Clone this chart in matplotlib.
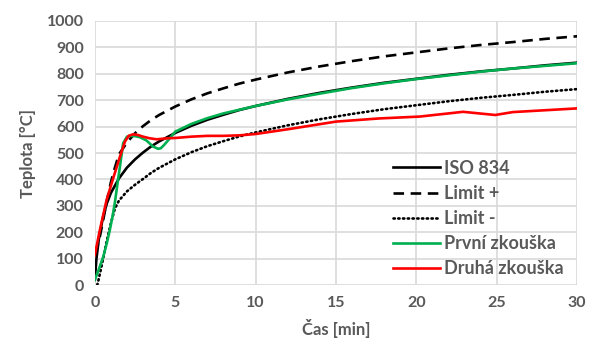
import matplotlib
matplotlib.use('Agg')
import matplotlib.pyplot as plt

# ISO 834 a limity
t_iso = [0, 0.1, 0.25, 0.5, 0.75, 1, 1.5, 2, 2.5, 3, 3.5, 4, 5, 6, 7, 8, 9, 10,
         12, 14, 16, 18, 20, 22, 24, 26, 28, 30]
iso = [20, 100, 175, 255, 310, 349, 404, 445, 476, 502, 525, 544, 576, 603, 626,
       645, 663, 678, 705, 728, 748, 766, 781, 796, 809, 820, 832, 842]

t_plus = [0, 0.25, 0.5, 0.75, 1, 1.25, 1.5, 2, 2.5, 3, 3.5, 4, 5, 6, 7, 8, 9, 10,
          12, 14, 16, 18, 20, 22, 24, 26, 28, 30]
limit_plus = [120, 165, 240, 320, 390, 445, 495, 540, 575, 602, 625, 644, 676, 703,
              726, 745, 763, 778, 805, 828, 848, 866, 881, 896, 909, 920, 932, 942]

t_minus = [0.15, 0.25, 0.5, 0.75, 1, 1.25, 1.5, 2, 2.5, 3, 3.5, 4, 5, 6, 7, 8, 9, 10,
           12, 14, 16, 18, 20, 22, 24, 26, 28, 30]
limit_minus = [0, 25, 95, 170, 235, 290, 320, 355, 380, 402, 425, 444, 476, 503, 526,
               545, 563, 578, 605, 628, 648, 666, 681, 696, 709, 720, 732, 742]

# První zkouška
t_1 = [0, 0.25, 0.52, 0.75, 0.93, 1.1, 1.24, 1.4, 1.56, 1.76, 2.0, 2.2, 2.5, 2.8,
       3.2, 3.63, 3.94, 4.1, 4.3, 4.67, 5.0, 6, 7, 8, 9, 10, 12, 14, 16, 18, 20,
       22, 24, 26, 28, 30]
prvni = [20, 60, 107, 160, 208, 260, 310, 380, 448, 537, 562, 565, 564, 560, 548,
         524, 516, 518, 530, 556, 581, 610, 632, 650, 664, 678, 703, 725, 746, 764,
         780, 794, 808, 820, 830, 840]

# Druhá zkouška
t_2 = [0, 0.31, 0.73, 1.14, 1.56, 1.87, 2.1, 2.38, 2.7, 3.0, 3.4, 3.84, 4.56, 5,
       6, 7, 8, 9, 10, 12, 15, 17.7, 20.2, 22.9, 24.9, 26, 28, 30]
druha = [114, 208, 322, 404, 486, 543, 565, 571, 568, 562, 556, 552, 556, 557, 562,
         565, 565, 567, 572, 590, 619, 631, 638, 656, 644, 655, 662, 669]

plt.rcParams['font.family'] = ['Lato', 'DejaVu Sans']
grey = '#595959'

fig = plt.figure(figsize=(5.89, 3.49), dpi=100)
ax = fig.add_axes([0.161, 0.183, 0.819, 0.757])

lw = 1.9
ax.plot(t_iso, iso, color='black', lw=lw, label='ISO 834')
ax.plot(t_plus, limit_plus, color='black', lw=lw, linestyle=(0, (4, 2.5)), label='Limit +')
ax.plot(t_minus, limit_minus, color='black', lw=lw, linestyle=(0, (0.5, 1.3)),
        dash_capstyle='round', label='Limit -')
ax.plot(t_1, prvni, color='#00B050', lw=lw, label='První zkouška')
ax.plot(t_2, druha, color='#FF0000', lw=lw, label='Druhá zkouška')

ax.set_xlim(0, 30)
ax.set_ylim(0, 1000)
ax.set_xticks(range(0, 31, 5))
ax.set_yticks(range(0, 1001, 100))
ax.grid(True, color='#d9d9d9', lw=1.2)
ax.set_axisbelow(True)
for s in ax.spines.values():
    s.set_visible(False)
ax.tick_params(length=0, labelsize=11.5, labelcolor=grey, pad=8)
for lab in ax.get_xticklabels() + ax.get_yticklabels():
    lab.set_fontweight('bold')

ax.set_xlabel('Čas [min]', fontsize=12, fontweight='bold', color=grey, labelpad=6)
ax.set_ylabel('Teplota [°C]', fontsize=12, fontweight='bold', color=grey, labelpad=8)

leg = ax.legend(loc='center left', bbox_to_anchor=(0.618, 0.252), frameon=False,
                fontsize=13, handlelength=2.6, handletextpad=0.2, labelspacing=0.45,
                borderpad=0, borderaxespad=0)
for txt in leg.get_texts():
    txt.set_color(grey)
    txt.set_fontweight('bold')

fig.savefig('out.png', dpi=100)
